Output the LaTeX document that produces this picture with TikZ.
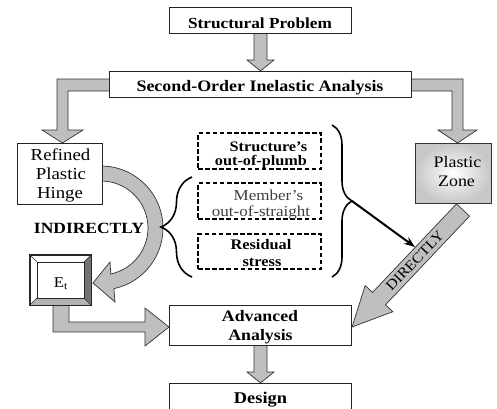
\documentclass[tikz,border=0pt]{standalone}
\usepackage{fontspec}
\setmainfont{Liberation Serif}[FakeStretch=1.12]
\usetikzlibrary{decorations.pathreplacing,calc,arrows.meta}
\newcommand{\fsz}[1]{\fontsize{#1}{#1}\selectfont}
\begin{document}
\begin{tikzpicture}[x=1pt,y=-1pt,
  box/.style={draw=black!85, line width=0.9pt, fill=white, inner sep=0pt},
  dbox/.style={draw=black, line width=1.4pt, dash pattern=on 4.5pt off 2.6pt, inner sep=0pt},
  blk/.style={draw=black!80, line width=0.7pt, fill=black!25, line join=miter},
  brc/.style={draw=black, line width=1.6pt},
  txt/.style={anchor=base, inner sep=0pt},
]
\useasboundingbox (0,0) rectangle (497,408);

% ---------- block arrows ----------
% Structural Problem -> Second-Order
\draw[blk] (254,32) -- (254,60) -- (247,60) -- (260.5,71) -- (274,60) -- (267,60) -- (267,32) -- cycle;
% left elbow
\draw[blk] (110,79) -- (57,79) -- (57,130) -- (42,130) -- (62.5,143) -- (83,130) -- (68,130) -- (68,91) -- (110,91) -- cycle;
% right elbow
\draw[blk] (410,79) -- (463,79) -- (463,130) -- (477,130) -- (457.5,143) -- (438,130) -- (452,130) -- (452,91) -- (410,91) -- cycle;
% curved arrow Refined Plastic Hinge -> Et
\coordinate (C) at (101,228);
\draw[blk] ($(C)+(-95:62)$) arc[start angle=-95, end angle=78, radius=62]
  -- (115,302) -- (93,283) -- (110,262) -- ($(C)+(78:47)$)
  arc[start angle=78, end angle=-95, radius=47] -- cycle;
% Et -> Advanced Analysis
\draw[blk] (53,304) -- (53,332) -- (145,332) -- (145,346) -- (169,327) -- (145,308) -- (145,322) -- (69,322) -- (69,304) -- cycle;
% DIRECTLY arrow
\draw[blk] (456.5,203.8) -- (469.5,216.2) -- (385.5,304.8) -- (392.8,311.7) -- (352,327) -- (365.2,285.5) -- (372.5,292.4) -- cycle;
% Advanced -> Design
\draw[blk] (254,344) -- (254,372) -- (247,372) -- (260.5,383) -- (274,372) -- (267,372) -- (267,344) -- cycle;

% ---------- boxes ----------
\node[box, minimum width=182pt, minimum height=26pt] (sp) at (260,20) {};
\node[box, minimum width=302pt, minimum height=26pt] (soia) at (260,84) {};
\node[box, minimum width=85pt, minimum height=61pt] (rph) at (59.5,173.5) {};
\node[draw=black!80, line width=0.9pt, inner sep=0pt, inner color=white, outer color=black!22,
      minimum width=76pt, minimum height=60pt] (pz) at (453,173) {};
\node[box, minimum width=182pt, minimum height=40pt] (aa) at (260,325) {};
\node[box, minimum width=182pt, minimum height=28pt] (des) at (260,397) {};

% dashed boxes
\node[dbox, minimum width=123pt, minimum height=36pt] (s1) at (259.5,151) {};
\node[dbox, minimum width=123pt, minimum height=36pt] (s2) at (259.5,201) {};
\node[dbox, minimum width=123pt, minimum height=35pt] (s3) at (259.5,251.5) {};

% Et bevelled box
\node[draw=black!85, line width=0.9pt, fill=white, inner sep=0pt, minimum width=61pt, minimum height=50pt] (et) at (60.5,280) {};
\fill[black!55] (91,255) -- (91,305) -- (84,298) -- (84,262) -- cycle;
\fill[black!30] (30,305) -- (91,305) -- (84,298) -- (37,298) -- cycle;
\draw[black!85, line width=0.9pt] (et.north west) rectangle (et.south east);
\draw[black!85, line width=0.7pt] (37,262) rectangle (84,298);
\draw[black!85, line width=0.6pt] (30,255) -- (37,262) (91,255) -- (84,262) (30,305) -- (37,298) (91,305) -- (84,298);

% ---------- texts ----------
\node[txt, font=\fsz{15.4}\bfseries] (t1) at (260,28.3) {Structural Problem};
\node[txt, font=\fsz{16}\bfseries] (t2) at (260,91.7) {Second-Order Inelastic Analysis};
\node[txt, font=\fsz{16.8}] (t3a) at (60.5,160.7) {Refined};
\node[txt, font=\fsz{16.8}] (t3b) at (61,179.3) {Plastic};
\node[txt, font=\fsz{16.8}] (t3c) at (60,198) {Hinge};
\node[txt, font=\fsz{15.6}\bfseries] (ind) at (89,233.3) {INDIRECTLY};
\node[txt, font=\fsz{14.5}\bfseries] (s1a) at (268.5,151.5) {Structure’s};
\node[txt, font=\fsz{14.5}\bfseries] (s1b) at (261,165) {out-of-plumb};
\node[txt, font=\fsz{15.2}, text=black!75] (s2a) at (268.5,200) {Member’s};
\node[txt, font=\fsz{15.2}, text=black!75] (s2b) at (261,216) {out-of-straight};
\node[txt, font=\fsz{14.6}\bfseries] (s3a) at (261,249.3) {Residual};
\node[txt, font=\fsz{14.6}\bfseries] (s3b) at (262,266) {stress};
\node[txt, font=\fsz{16}] (pza) at (457.5,167.7) {Plastic};
\node[txt, font=\fsz{16}] (pzb) at (456.5,186.7) {Zone};
\node[txt, font=\fsz{15}] (ett) at (61,287) {E\textsubscript{t}};
\node[txt, font=\fsz{15.9}\bfseries] (aaa) at (260,321.7) {Advanced};
\node[txt, font=\fsz{15.9}\bfseries] (aab) at (260.5,340) {Analysis};
\node[txt, font=\fsz{16.4}\bfseries] (dest) at (260.5,403) {Design};
\node[inner sep=0pt, rotate=46.5, font=\fsz{14.2}] (dir) at (414.8,260.8) {DIRECTLY};

% ---------- braces and black arrow ----------
\draw[brc, decorate, decoration={brace, amplitude=20pt}] (332,125) -- (332,277);
\draw[brc, decorate, decoration={brace, amplitude=31pt}] (192,277) -- (192,177);
\coordinate (rb) at (352,201);
\coordinate (dt) at (415,247);
\draw[line width=2pt, -{Stealth[length=11pt,width=8pt]}] (rb) -- (dt);
\end{tikzpicture}
\end{document}
